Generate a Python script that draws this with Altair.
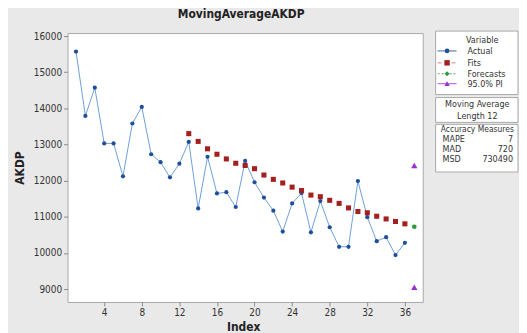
import altair as alt
import pandas as pd

# ---- data ----
index = list(range(1, 37))
actual = [15570, 13790, 14570, 13030, 13030, 12120, 13580, 14040, 12730, 12510,
          12090, 12470, 13070, 11230, 12660, 11645, 11680, 11270, 12545, 11955,
          11530, 11170, 10590, 11370, 11655, 10570, 11435, 10710, 10170, 10170,
          11990, 10990, 10325, 10435, 9940, 10280]
fit_index = list(range(13, 37))
fits = [13300, 13085, 12880, 12730, 12600, 12480, 12420, 12330, 12155, 12035,
        11935, 11820, 11725, 11600, 11555, 11455, 11370, 11245, 11145, 11110,
        11015, 10940, 10870, 10805]
forecast_index = [37]
forecast = [10725]
pi_lower = [9050]
pi_upper = [12420]
x_ticks = [4, 8, 12, 16, 20, 24, 28, 32, 36]
y_ticks = [9000, 10000, 11000, 12000, 13000, 14000, 15000, 16000]

FONT = "DejaVu Sans Condensed, Roboto Condensed, Roboto, sans-serif"
TXT = "#333333"
W, H = 358, 271

C_ACT_LINE = "#6f9fd8"
C_ACT_PT = "#1f4f9c"
C_FIT = "#a3201f"
C_FC = "#2e9a3a"
C_PI = "#9b2fcf"

df_a = pd.DataFrame({"Index": index, "AKDP": actual})
df_f = pd.DataFrame({"Index": fit_index, "AKDP": fits})
df_fc = pd.DataFrame({"Index": forecast_index, "AKDP": forecast})
df_pi = pd.DataFrame({"Index": forecast_index * 2, "AKDP": pi_lower + pi_upper})

xenc = alt.X("Index:Q",
             scale=alt.Scale(domain=[0.1, 37.9], nice=False, zero=False),
             axis=alt.Axis(values=x_ticks, tickCount=40, title="Index", titleX=W / 2 - 2,
                           titleY=25, titleBaseline="middle"))
yenc = alt.Y("AKDP:Q",
             scale=alt.Scale(domain=[8643, 16082], nice=False, zero=False),
             axis=alt.Axis(values=y_ticks, tickCount=40, format="d", title="AKDP",
                           titleX=-48, titleY=H / 2, titleBaseline="middle"))

line = alt.Chart(df_a).mark_line(color=C_ACT_LINE, strokeWidth=1).encode(x=xenc, y=yenc)
pts = alt.Chart(df_a).mark_point(filled=True, shape="circle", size=18, color=C_ACT_PT,
                                 opacity=1).encode(x="Index:Q", y="AKDP:Q")
fit_pts = alt.Chart(df_f).mark_point(filled=True, shape="square", size=26, color=C_FIT,
                                     opacity=1).encode(x="Index:Q", y="AKDP:Q")
fc_pts = alt.Chart(df_fc).mark_point(filled=True, shape="circle", size=22, color=C_FC,
                                     opacity=1).encode(x="Index:Q", y="AKDP:Q")
pi_pts = alt.Chart(df_pi).mark_point(filled=True, shape="triangle-up", size=40, color=C_PI,
                                     opacity=1).encode(x="Index:Q", y="AKDP:Q")

# ---- legend / info boxes (decoration) ----
dummy = pd.DataFrame({"d": [0]})


def box(x1, x2, y1, y2):
    return alt.Chart(dummy).mark_rect(fill="white", stroke="#a8a8a8", strokeWidth=1).encode(
        x=alt.value(x1), x2=alt.value(x2), y=alt.value(y1), y2=alt.value(y2))


def txt(s, x, y, align="center", size=9, weight="normal"):
    return alt.Chart(dummy).mark_text(text=s, align=align, baseline="middle", font=FONT,
                                      fontSize=size, fontWeight=weight, color=TXT).encode(
        x=alt.value(x), y=alt.value(y))


def sample(y, color, shape, dash, size, lcolor):
    r = alt.Chart(dummy).mark_rule(color=lcolor, strokeWidth=1, strokeDash=dash).encode(
        x=alt.value(373), x2=alt.value(392), y=alt.value(y))
    p = alt.Chart(dummy).mark_point(filled=True, shape=shape, size=size, color=color,
                                    opacity=1).encode(x=alt.value(382.5), y=alt.value(y))
    return [r, p]


deco = [box(371, 454, -2, 62), box(371, 454, 65, 90), box(371, 454, 92, 140)]
deco += [txt("Variable", 418, 7)]
deco += sample(18, C_ACT_PT, "circle", [1, 0], 22, C_ACT_PT) + [txt("Actual", 403, 18, "left")]
deco += sample(30, C_FIT, "square", [4, 3], 30, "#d08080") + [txt("Fits", 403, 30, "left")]
deco += sample(41, C_FC, "diamond", [2, 2], 26, "#5aa060") + [txt("Forecasts", 403, 41, "left")]
deco += sample(51, C_PI, "triangle-up", [1, 0], 30, C_PI) + [txt("95.0% PI", 403, 51, "left")]
deco += [txt("Moving Average", 413, 71), txt("Length   12", 413, 84)]
deco += [txt("Accuracy Measures", 413, 97, size=8.5)]
deco += [txt("MAPE", 378, 107, "left"), txt("7", 449, 107, "right"),
         txt("MAD", 378, 117, "left"), txt("720", 449, 117, "right"),
         txt("MSD", 378, 127, "left"), txt("730490", 449, 127, "right")]

chart = alt.layer(line, pts, fit_pts, fc_pts, pi_pts, *deco).properties(
    width=W, height=H,
    autosize=alt.AutoSizeParams(type="none"),
    padding={"left": 60, "top": 24, "right": 97, "bottom": 30},
    title=alt.TitleParams("MovingAverageAKDP", font=FONT, fontSize=12, fontWeight="bold",
                          color="#222222", anchor="middle", dx=-4, dy=11, offset=12,
                          baseline="alphabetic", frame="group"),
).configure(background="#e9e9e9").configure_view(
    fill="white", stroke="#a8a8a8", strokeWidth=1
).configure_axis(
    grid=False, domain=False, tickColor="#8a8a8a", tickSize=4, labelOverlap=False,
    labelFont=FONT, labelFontSize=10, labelColor=TXT, labelPadding=2,
    titleFont=FONT, titleFontSize=12, titleFontWeight="bold", titleColor="#222222",
)

chart.save("out.html", embed_options={"renderer": "svg", "actions": False})
